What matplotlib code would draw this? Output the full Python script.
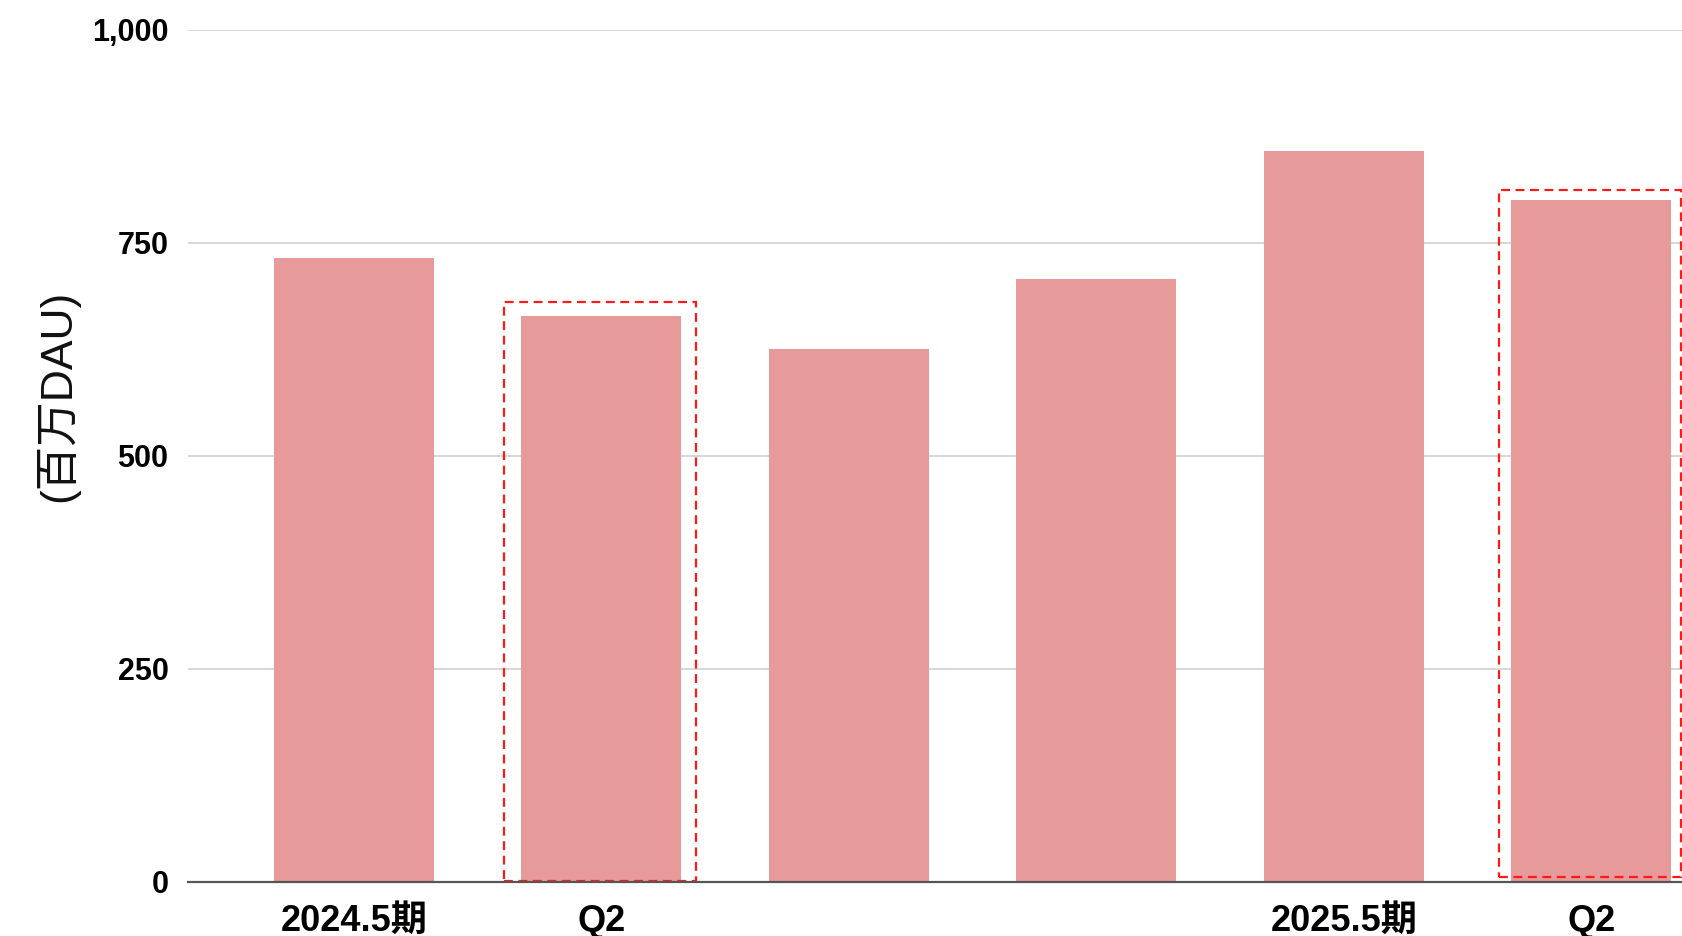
import matplotlib.pyplot as plt
from matplotlib.patches import Rectangle

plt.rcParams['font.family'] = ['Liberation Sans', 'Noto Sans CJK JP', 'DejaVu Sans']

# データ (百万DAU)
labels = ["2024.5期", "Q2", "", "", "2025.5期", "Q2"]
dau = [732, 664, 625, 708, 858, 800]
highlight = [1, 5]  # 点線で囲む棒

bar_color = '#e79a9a'

fig = plt.figure(figsize=(16.83, 9.36), dpi=100)
ax = fig.add_axes([0.1117, 0.0577, 0.8883, 0.9103])

x = list(range(len(dau)))
ax.bar(x, dau, width=0.646, color=bar_color, zorder=2)

# 点線の枠 (左の余白, 右の余白, 下端)
box_style = {1: (0.394, 0.381, 1), 5: (0.372, 0.362, 6)}
for i in highlight:
    dl, dr, bottom = box_style[i]
    left = i - dl
    right = i + dr
    top = dau[i] + 17 if i == 1 else dau[i] + 12
    r = Rectangle((left, bottom), right - left, top - bottom, fill=False,
                  edgecolor='#ff1a1a', linestyle=(0, (4, 2.5)), linewidth=1.6,
                  zorder=3, clip_on=False)
    ax.add_patch(r)

ax.set_xlim(-0.67, 5.37)
ax.set_ylim(0, 1000)
ax.set_yticks([0, 250, 500, 750, 1000])
ax.set_yticklabels(["0", "250", "500", "750", "1,000"], fontsize=22, fontweight='bold')
ax.set_xticks(x)
ax.set_xticklabels(labels, fontsize=26, fontweight='bold')
ax.tick_params(axis='y', length=0, pad=14)
ax.tick_params(axis='x', length=0, pad=16)

ax.grid(axis='y', color='#d3d3d3', linewidth=1.3, zorder=0)
for s in ['top', 'right', 'left']:
    ax.spines[s].set_visible(False)
ax.spines['bottom'].set_color('#555555')
ax.spines['bottom'].set_linewidth(1.6)
ax.spines['bottom'].set_zorder(4)

fig.text(0.034, 0.577, "(百万DAU)", rotation=90, fontsize=32,
         ha='center', va='center', color='#111111')

fig.savefig('out.png', dpi=100)
